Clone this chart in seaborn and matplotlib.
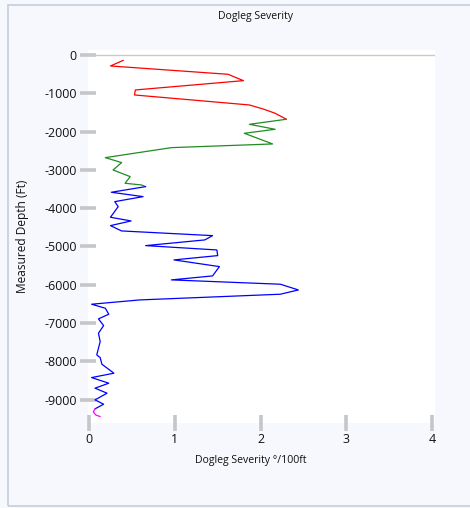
import numpy as np
import pandas as pd
import matplotlib
matplotlib.use("Agg")
import matplotlib.pyplot as plt
import matplotlib.patches as mpatches
import seaborn as sns

# Dogleg severity (deg/100ft) against measured depth (ft), per hole section
red_dls = [0.40, 0.25, 1.62, 1.80, 0.54, 0.53, 1.87, 2.03, 2.17, 2.30]
red_md = [-139, -287, -504, -670, -913, -1044, -1305, -1410, -1522, -1678]

green_dls = [2.30, 1.87, 2.17, 1.81, 2.14, 0.96, 0.19, 0.38, 0.28, 0.48, 0.42, 0.61, 0.66]
green_md = [-1678, -1810, -1940, -2044, -2323, -2419, -2680, -2810, -3002, -3176, -3349, -3393, -3437]

blue_dls = [0.66, 0.26, 0.63, 0.30, 0.34, 0.25, 0.49, 0.25, 0.38, 1.44, 1.35,
            0.66, 1.49, 1.50, 0.99, 1.52, 1.44, 0.96, 2.23, 2.44, 2.23, 0.59,
            0.03, 0.19, 0.23, 0.11, 0.17, 0.11, 0.13, 0.09, 0.13, 0.15, 0.29,
            0.03, 0.23, 0.07, 0.21, 0.07, 0.17, 0.07]
blue_md = [-3437, -3584, -3698, -3829, -3959, -4236, -4333, -4455, -4594, -4716, -4828,
           -4977, -5090, -5238, -5350, -5525, -5768, -5872, -5985, -6134, -6246, -6395,
           -6507, -6612, -6768, -6890, -7065, -7264, -7483, -7830, -7900, -8073, -8308,
           -8422, -8569, -8699, -8830, -9004, -9117, -9239]

magenta_dls = [0.07, 0.05, 0.08, 0.13]
magenta_md = [-9239, -9320, -9400, -9440]

sections = ["red", "green", "blue", "magenta"]
section_colors = {"red": "#FF0000", "green": "#228B22", "blue": "#0000FF", "magenta": "#FF00FF"}

frames = []
for name, dls, md in zip(sections,
                         [red_dls, green_dls, blue_dls, magenta_dls],
                         [red_md, green_md, blue_md, magenta_md]):
    frames.append(pd.DataFrame({"dls": dls, "md": md, "section": name}))
df = pd.concat(frames, ignore_index=True)

y_ticks = [0, -1000, -2000, -3000, -4000, -5000, -6000, -7000, -8000, -9000]
x_ticks = [0, 1, 2, 3, 4]

sns.set_theme(style="white")
plt.rcParams["font.family"] = ["Open Sans", "DejaVu Sans"]

W, H = 470, 508
fig = plt.figure(figsize=(W / 100, H / 100), dpi=100)
fig.patch.set_facecolor("#F6F8FD")

# panel border
fig.add_artist(mpatches.Rectangle((8 / W, 2 / H), 1.2, 1 - 7 / H,
                                  transform=fig.transFigure, fill=False,
                                  edgecolor="#C3CEDF", linewidth=1.2))

ax = fig.add_axes([88 / W, 1 - 423 / H, (435 - 88) / W, (423 - 50) / H])
ax.set_facecolor("white")

ax.axhline(0, color="#C8C8C8", linewidth=1.0, zorder=1)

sns.lineplot(data=df, x="dls", y="md", hue="section", palette=section_colors,
             sort=False, estimator=None, legend=False, linewidth=0.9, ax=ax)

ax.set_xlim(-0.012, 4.033)
ax.set_ylim(-9608, 130)
ax.set_xticks(x_ticks)
ax.set_xticklabels([str(t) for t in x_ticks])
ax.set_yticks(y_ticks)
ax.set_yticklabels([str(t) for t in y_ticks])

for s in ax.spines.values():
    s.set_visible(False)

ax.tick_params(axis="both", which="major", direction="inout", length=12,
               width=2.6, color="#C4C6C9", labelsize=9, labelcolor="#111111",
               bottom=True, left=True)
ax.tick_params(axis="y", pad=2)
ax.tick_params(axis="x", pad=1)

ax.set_xlabel("")
ax.set_ylabel("")
fig.text(251 / W, 1 - 461 / H, "Dogleg Severity °/100ft", ha="center", va="center",
         fontsize=7.6, color="#111111")
fig.text(23 / W, 1 - 236 / H, "Measured Depth (Ft)", ha="center", va="center",
         rotation=90, fontsize=8.6, color="#111111")
fig.text(256 / W, 1 - 16 / H, "Dogleg Severity", ha="center", va="center",
         fontsize=7.6, color="#111111")

fig.savefig("out.png", dpi=100, facecolor=fig.get_facecolor())
